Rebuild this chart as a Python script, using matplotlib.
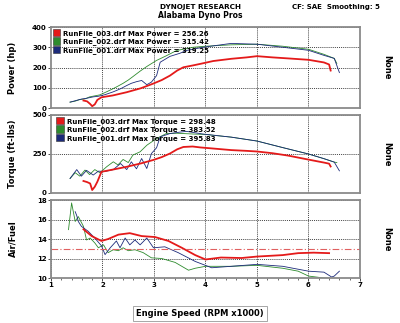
import numpy as np
import matplotlib.pyplot as plt
from matplotlib.patches import Patch

# engine speed (RPM x1000) and readings per run
rpm_red = [1.63, 1.7, 1.76, 1.8, 1.85, 1.9, 1.98, 2.2, 2.47, 2.75, 2.98, 3.15, 3.31, 3.45, 3.57, 3.75, 3.9, 4.15, 4.5, 4.8, 5.0, 5.3, 5.6, 6.0, 6.3, 6.4, 6.43]
hp_red = [37, 33, 20, 9, 18, 40, 53, 62, 78, 98, 120, 138, 160, 185, 201, 210, 218, 232, 243, 250, 256, 250, 245, 238, 225, 215, 185]
tq_red = [77, 70, 61, 19, 40, 72, 136, 150, 168, 190, 211, 230, 253, 280, 295, 298, 292, 285, 275, 270, 266, 255, 240, 214, 195, 188, 170]

rpm_grn = [1.37, 1.47, 1.56, 1.66, 1.75, 1.85, 1.95, 2.08, 2.21, 2.3, 2.4, 2.5, 2.59, 2.73, 2.86, 3.05, 3.24, 3.44, 3.76, 4.0, 4.5, 5.0, 5.5, 6.0, 6.3, 6.5, 6.55]
hp_grn = [29, 34, 42, 45, 55, 60, 65, 80, 96, 108, 122, 138, 155, 182, 205, 235, 258, 284, 300, 305, 312, 315, 305, 290, 265, 245, 220]
tq_grn = [93, 130, 108, 147, 118, 150, 130, 168, 200, 180, 215, 195, 243, 264, 306, 349, 381, 383, 378, 375, 358, 333, 291, 250, 220, 198, 195]

rpm_blu = [1.37, 1.5, 1.59, 1.69, 1.82, 1.92, 2.05, 2.21, 2.35, 2.47, 2.56, 2.66, 2.76, 2.86, 2.95, 3.05, 3.12, 3.31, 3.5, 3.63, 3.95, 4.5, 5.0, 5.5, 6.0, 6.3, 6.5, 6.6]
hp_blu = [29, 38, 44, 48, 55, 58, 66, 80, 95, 111, 122, 130, 136, 115, 128, 160, 226, 255, 270, 284, 300, 319, 315, 300, 285, 260, 245, 175]
tq_blu = [93, 150, 108, 145, 115, 140, 138, 150, 189, 150, 200, 155, 221, 157, 253, 290, 360, 381, 390, 395, 378, 358, 333, 291, 250, 220, 198, 142]

afr_rpm_red = [1.63, 1.79, 1.98, 2.11, 2.31, 2.53, 2.76, 3.02, 3.28, 3.54, 3.8, 4.0, 4.3, 4.7, 5.0, 5.5, 5.8, 6.1, 6.4]
afr_red = [15.0, 14.3, 13.8, 14.0, 14.45, 14.6, 14.3, 14.2, 13.8, 13.1, 12.35, 11.9, 12.1, 12.05, 12.2, 12.35, 12.55, 12.6, 12.55]

afr_rpm_grn = [1.34, 1.40, 1.47, 1.53, 1.63, 1.69, 1.76, 1.85, 1.92, 2.02, 2.11, 2.21, 2.31, 2.4, 2.5, 2.63, 2.79, 2.95, 3.15, 3.41, 3.67, 3.8, 4.0, 4.5, 5.0, 5.5, 5.8, 6.0, 6.3, 6.4]
afr_grn = [14.96, 17.7, 15.8, 16.3, 15.3, 13.9, 14.1, 13.6, 13.1, 13.4, 12.6, 12.9, 12.8, 13.1, 12.8, 12.9, 12.6, 12.07, 12.0, 11.6, 10.8, 11.0, 11.2, 11.2, 11.3, 11.0, 10.7, 10.2, 10.0, 10.0]

afr_rpm_blu = [1.47, 1.5, 1.53, 1.59, 1.72, 1.85, 1.98, 2.05, 2.15, 2.27, 2.34, 2.44, 2.53, 2.63, 2.73, 2.86, 2.99, 3.21, 3.47, 3.8, 4.12, 4.5, 5.0, 5.5, 5.8, 6.0, 6.3, 6.45, 6.5, 6.6]
afr_blu = [16.8, 16.4, 15.8, 15.3, 14.8, 14.1, 13.3, 12.4, 13.1, 13.8, 13.1, 14.1, 13.4, 13.9, 13.4, 14.1, 13.1, 13.2, 12.6, 11.7, 11.05, 11.2, 11.4, 11.2, 10.9, 10.7, 10.6, 10.1, 10.2, 10.7]

runs = ["RunFile_003.drf", "RunFile_002.drf", "RunFile_001.drf"]
max_power = [256.26, 315.42, 319.25]
max_torque = [298.48, 383.52, 395.83]

RED, GRN, BLU = "#e41a1a", "#2e8b2e", "#1c2a7a"
cols = [RED, GRN, BLU]

fig = plt.figure(figsize=(4, 3.23), dpi=100)
L, W = 0.1275, 0.7725
ax1 = fig.add_axes([L, 0.6656, W, 0.2508])
ax2 = fig.add_axes([L, 0.4025, W, 0.2415])
ax3 = fig.add_axes([L, 0.1393, W, 0.2415])

fs = 5.0
for ax in (ax1, ax2, ax3):
    ax.set_xlim(1, 7)
    for s in ax.spines.values():
        s.set_color("#8a8a8a")
        s.set_linewidth(1.3)
    ax.tick_params(labelsize=fs, length=2, width=0.5, pad=1)
    ax.set_xticks([2, 3, 4, 5, 6])
    ax.grid(True, color="black", linestyle=(0, (1.5, 1.5)), linewidth=0.5)

for ax in (ax1, ax2):
    ax.tick_params(axis="x", length=0, labelbottom=False)

ax1.plot(rpm_grn, hp_grn, color=GRN, lw=0.6)
ax1.plot(rpm_blu, hp_blu, color=BLU, lw=0.6)
ax1.plot(rpm_red, hp_red, color=RED, lw=1.3)
ax1.set_ylim(0, 400)
ax1.set_yticks([0, 100, 200, 300, 400])

ax2.plot(rpm_grn, tq_grn, color=GRN, lw=0.6)
ax2.plot(rpm_blu, tq_blu, color=BLU, lw=0.6)
ax2.plot(rpm_red, tq_red, color=RED, lw=1.3)
ax2.set_ylim(0, 500)
ax2.set_yticks([0, 250, 500])

ax3.plot(afr_rpm_grn, afr_grn, color=GRN, lw=0.6)
ax3.plot(afr_rpm_blu, afr_blu, color=BLU, lw=0.6)
ax3.plot(afr_rpm_red, afr_red, color=RED, lw=1.3)
ax3.axhline(13, color="#e06060", lw=0.8, linestyle=(0, (6, 2, 1, 2)))
ax3.set_ylim(10, 18)
ax3.set_yticks([10, 12, 14, 16, 18])
ax3.set_xticks([1, 2, 3, 4, 5, 6, 7])
ax3.set_xticks(np.arange(1, 7.01, 0.2), minor=True)
ax3.tick_params(axis="x", which="minor", length=1.2, width=0.4)

for ax in (ax1, ax2, ax3):
    for lab in ax.get_yticklabels() + ax.get_xticklabels():
        lab.set_fontweight("bold")

def add_legend(ax, label, vals, x0):
    handles = [Patch(facecolor=c, edgecolor="#333333", linewidth=0.4) for c in cols]
    texts = ["%s Max %s = %.2f" % (r, label, v) for r, v in zip(runs, vals)]
    ax.legend(handles, texts, loc="upper left", bbox_to_anchor=(x0, 1.0), frameon=False,
              prop={"weight": "bold", "size": fs}, handlelength=1.1, handleheight=1.2,
              handletextpad=0.35, labelspacing=0.12, borderaxespad=0.15, borderpad=0.1)

add_legend(ax1, "Power", max_power, 0.0)
add_legend(ax2, "Torque", max_torque, 0.012)

ax1.set_ylabel("Power (hp)", fontsize=6, fontweight="bold")
ax2.set_ylabel("Torque (ft-lbs)", fontsize=6, fontweight="bold")
ax3.set_ylabel("Air/Fuel", fontsize=6, fontweight="bold")
for ax in (ax1, ax2, ax3):
    ax.yaxis.set_label_coords(-0.11, 0.5)
    ax.text(1.085, 0.5, "None", transform=ax.transAxes, rotation=270, fontsize=6,
            fontweight="bold", va="center", ha="center")

fig.text(0.5, 0.977, "DYNOJET RESEARCH", fontsize=5.2, fontweight="bold", ha="center", va="center")
fig.text(0.5, 0.952, "Alabama Dyno Pros", fontsize=5.5, fontweight="bold", ha="center", va="center")
fig.text(0.84, 0.977, "CF: SAE  Smoothing: 5", fontsize=5, fontweight="bold", ha="center", va="center")
fig.text(0.5, 0.03, "Engine Speed (RPM x1000)", fontsize=6, fontweight="bold", ha="center", va="center",
         bbox=dict(boxstyle="square,pad=0.35", facecolor="white", edgecolor="#999999", linewidth=0.6))

fig.savefig("out.png", dpi=100)
